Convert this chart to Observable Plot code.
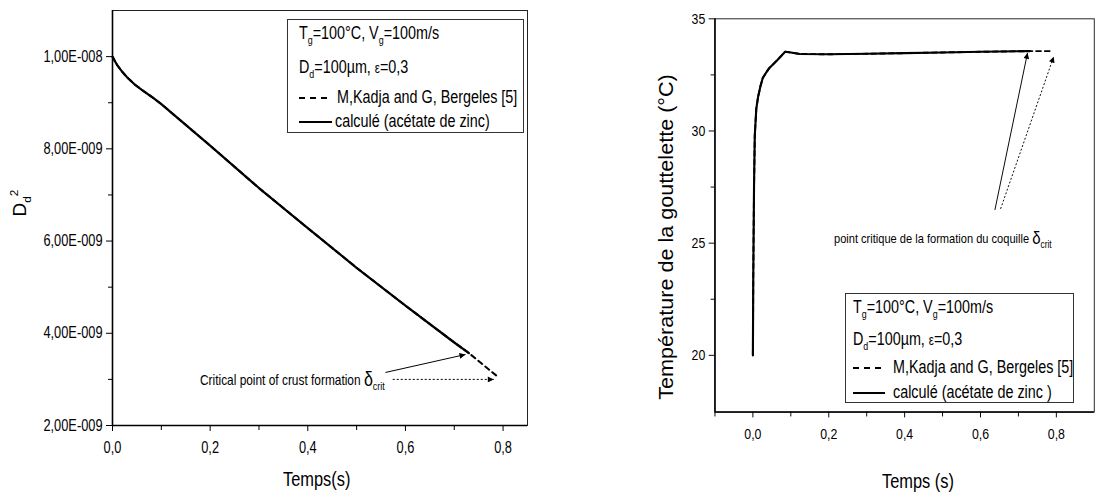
<!DOCTYPE html>
<html><head><meta charset="utf-8">
<script src="https://cdn.jsdelivr.net/npm/d3@7"></script>
<script src="https://cdn.jsdelivr.net/npm/@observablehq/plot@0.6"></script>
<style>
html,body{margin:0;padding:0;background:#fff;}
body{width:1102px;height:495px;overflow:hidden;position:relative;font-family:"Liberation Sans",Arial,sans-serif;color:#000;}
.panel{position:absolute;top:0;overflow:hidden;}
.txt{position:absolute;white-space:nowrap;line-height:1;}
.n{transform:scaleX(0.82);transform-origin:0 50%;}
.txt sub{font-size:62%;vertical-align:-0.45em;line-height:0;}
.txt sup{font-size:62%;vertical-align:0.6em;line-height:0;}
.legend{position:absolute;border:1px solid #333;background:#fff;box-sizing:border-box;}
</style></head>
<body>
<div id="left" class="panel" style="left:0;width:540px;height:495px"></div>
<div id="right" class="panel" style="left:620px;width:482px;height:495px"></div>
<script>
// ---------- data: left panel (D_d^2 vs time) ----------
const timeD2Calc = [0, 0.005, 0.01, 0.02, 0.03, 0.045, 0.06, 0.08, 0.1, 0.2, 0.3, 0.4, 0.5, 0.6, 0.7, 0.73];
const d2Calc     = [1.0e-8, 9.9e-9, 9.81e-9, 9.67e-9, 9.55e-9, 9.4e-9, 9.28e-9, 9.13e-9, 8.97e-9, 8.07e-9, 7.15e-9, 6.28e-9, 5.42e-9, 4.6e-9, 3.8e-9, 3.57e-9];
const timeD2Ref  = [0, 0.005, 0.01, 0.02, 0.03, 0.045, 0.06, 0.08, 0.1, 0.2, 0.3, 0.4, 0.5, 0.6, 0.7, 0.73, 0.79];
const d2Ref      = [1.0e-8, 9.9e-9, 9.81e-9, 9.67e-9, 9.55e-9, 9.4e-9, 9.28e-9, 9.13e-9, 8.97e-9, 8.07e-9, 7.15e-9, 6.28e-9, 5.42e-9, 4.6e-9, 3.8e-9, 3.57e-9, 3.05e-9];
const leftXTicks = [0, 0.2, 0.4, 0.6, 0.8];
const leftXMinor = [0.1, 0.3, 0.5, 0.7];
const leftYTicks = [2e-9, 4e-9, 6e-9, 8e-9, 1e-8];
const leftYTickLabels = ["2,00E-009", "4,00E-009", "6,00E-009", "8,00E-009", "1,00E-008"];
const leftYMinor = [3e-9, 5e-9, 7e-9, 9e-9];
// annotation arrows (data coords): [x1, y1, x2, y2]
const leftArrowSolid  = [0.559, 3.15e-9, 0.723, 3.54e-9];
const leftArrowDotted = [0.574, 3.0e-9, 0.781, 3.0e-9];

// ---------- data: right panel (droplet temperature vs time) ----------
const timeTCalc = [0, 0.001, 0.003, 0.005, 0.009, 0.0135, 0.02, 0.026, 0.035, 0.043, 0.064, 0.085, 0.1, 0.124, 0.2, 0.3, 0.4, 0.5, 0.6, 0.73];
const tempCalc  = [20, 23.5, 27.5, 29.8, 31.0, 31.5, 32.0, 32.36, 32.6, 32.8, 33.15, 33.53, 33.5, 33.43, 33.42, 33.44, 33.47, 33.5, 33.53, 33.56];
const timeTRef  = [0, 0.001, 0.003, 0.005, 0.009, 0.0135, 0.02, 0.026, 0.035, 0.043, 0.064, 0.085, 0.1, 0.124, 0.2, 0.3, 0.4, 0.5, 0.6, 0.73, 0.79];
const tempRef   = [20, 23.5, 27.5, 29.8, 31.0, 31.5, 32.0, 32.36, 32.6, 32.8, 33.15, 33.53, 33.5, 33.43, 33.42, 33.44, 33.47, 33.5, 33.53, 33.56, 33.56];
const rightXTicks = [0, 0.2, 0.4, 0.6, 0.8];
const rightXMinor = [-0.1, 0.1, 0.3, 0.5, 0.7];
const rightYTicks = [20, 25, 30, 35];
const rightYMinor = [22.5, 27.5, 32.5];
const rightArrowSolid  = [0.638, 26.48, 0.724, 33.48];
const rightArrowDotted = [0.653, 26.53, 0.793, 33.31];

const fmtX = d => d3.format(".1f")(d).replace(".", ",");
const FONT = '"Liberation Sans",Arial,sans-serif';

function rows(xs, ys) { return xs.map((x, i) => ({x, y: ys[i]})); }

function addArrowheads(svg, id) {
  const s = d3.select(svg);
  s.append("defs").append("marker")
    .attr("id", id).attr("viewBox", "0 -5 10 10").attr("refX", 10).attr("refY", 0)
    .attr("markerWidth", 10).attr("markerHeight", 6).attr("markerUnits", "userSpaceOnUse")
    .attr("orient", "auto")
    .append("path").attr("d", "M0,-5L10,0L0,5Z").attr("fill", "#000");
  s.selectAll('g[aria-label="link"] path').attr("marker-end", `url(#${id})`);
}
// narrow the tick labels (condensed face is not installed)
function condense(svg, k) {
  d3.select(svg).selectAll("text").each(function() {
    const L = this.getComputedTextLength();
    if (L > 0) { this.setAttribute("textLength", L * k); this.setAttribute("lengthAdjust", "spacingAndGlyphs"); }
  });
}

// ---------- left plot ----------
const leftPlot = Plot.plot({
  width: 540, height: 495,
  marginLeft: 112, marginRight: 13, marginTop: 10, marginBottom: 70,
  x: {domain: [0, 0.85]},
  y: {domain: [2e-9, 1.1e-8]},
  style: {fontFamily: FONT, fontSize: "16px", color: "#000", background: "transparent"},
  marks: [
    Plot.frame({stroke: "#222", strokeWidth: 1}),
    Plot.axisX(leftXTicks, {tickSize: 6, tickPadding: 10, tickFormat: fmtX, label: null, fontSize: 16}),
    Plot.axisX(leftXMinor, {tickSize: 5, tickFormat: () => "", label: null}),
    Plot.axisY(leftYTicks, {tickSize: 6, tickPadding: 4, tickFormat: (d, i) => leftYTickLabels[i], label: null, fontSize: 16}),
    Plot.axisY(leftYMinor, {tickSize: 4, tickFormat: () => "", label: null}),
    Plot.ruleX([0], {stroke: "#000", strokeWidth: 1.6}),
    Plot.ruleY([2e-9], {stroke: "#000", strokeWidth: 1.6}),
    Plot.line(rows(timeD2Ref, d2Ref), {x: "x", y: "y", stroke: "#000", strokeWidth: 2, strokeDasharray: "5,4"}),
    Plot.line(rows(timeD2Calc, d2Calc), {x: "x", y: "y", stroke: "#000", strokeWidth: 2.2}),
    Plot.link([leftArrowSolid], {x1: d => d[0], y1: d => d[1], x2: d => d[2], y2: d => d[3], stroke: "#000", strokeWidth: 1}),
    Plot.link([leftArrowDotted], {x1: d => d[0], y1: d => d[1], x2: d => d[2], y2: d => d[3], stroke: "#000", strokeWidth: 1, strokeDasharray: "2,2"})
  ]
});
addArrowheads(leftPlot, "ahL");
document.getElementById("left").appendChild(leftPlot);
condense(leftPlot, 0.8);

// ---------- right plot ----------
const rightPlot = Plot.plot({
  width: 500, height: 495,
  marginLeft: 98, marginRight: 8.5, marginTop: 19, marginBottom: 68,
  x: {domain: [-0.1, 0.9]},
  y: {domain: [17.47, 35]},
  style: {fontFamily: FONT, fontSize: "16px", color: "#000", background: "transparent"},
  marks: [
    Plot.frame({stroke: "#222", strokeWidth: 1}),
    Plot.axisX(rightXTicks, {tickSize: 6, tickPadding: 11, tickFormat: fmtX, label: null, fontSize: 16}),
    Plot.axisX(rightXMinor, {tickSize: 5, tickFormat: () => "", label: null}),
    Plot.axisY(rightYTicks, {tickSize: 6, tickPadding: 4, tickFormat: d => String(d), label: null, fontSize: 16}),
    Plot.axisY(rightYMinor, {tickSize: 4, tickFormat: () => "", label: null}),
    Plot.ruleX([-0.1], {stroke: "#000", strokeWidth: 1.6}),
    Plot.ruleY([17.47], {stroke: "#000", strokeWidth: 1.6}),
    Plot.line(rows(timeTRef, tempRef), {x: "x", y: "y", stroke: "#000", strokeWidth: 2, strokeDasharray: "5,4"}),
    Plot.line(rows(timeTCalc, tempCalc), {x: "x", y: "y", stroke: "#000", strokeWidth: 2.2}),
    Plot.link([rightArrowSolid], {x1: d => d[0], y1: d => d[1], x2: d => d[2], y2: d => d[3], stroke: "#000", strokeWidth: 1}),
    Plot.link([rightArrowDotted], {x1: d => d[0], y1: d => d[1], x2: d => d[2], y2: d => d[3], stroke: "#000", strokeWidth: 1, strokeDasharray: "2,2"})
  ]
});
addArrowheads(rightPlot, "ahR");
document.getElementById("right").appendChild(rightPlot);
condense(rightPlot, 0.8);

// ---------- text overlays ----------
function txt(html, left, top, size, extra = "", cls = "n") {
  const d = document.createElement("div");
  d.className = "txt " + cls;
  d.style.left = left + "px"; d.style.top = top + "px"; d.style.fontSize = size + "px";
  if (extra) d.style.cssText += extra;
  d.innerHTML = html;
  document.body.appendChild(d);
  return d;
}
function legend(left, top, w, h) {
  const d = document.createElement("div");
  d.className = "legend";
  Object.assign(d.style, {left: left + "px", top: top + "px", width: w + "px", height: h + "px"});
  document.body.appendChild(d);
}
function sample(left, top, w, dashed) {
  const ns = "http://www.w3.org/2000/svg";
  const s = document.createElementNS(ns, "svg");
  s.setAttribute("width", w); s.setAttribute("height", 4);
  s.style.cssText = `position:absolute;left:${left}px;top:${top - 2}px;overflow:visible`;
  const l = document.createElementNS(ns, "line");
  l.setAttribute("x1", 0); l.setAttribute("x2", w); l.setAttribute("y1", 2); l.setAttribute("y2", 2);
  l.setAttribute("stroke", "#000"); l.setAttribute("stroke-width", 2);
  if (dashed) l.setAttribute("stroke-dasharray", "6,5");
  s.appendChild(l);
  document.body.appendChild(s);
}

const L1 = "T<sub>g</sub>=100°C, V<sub>g</sub>=100m/s";
const L2 = "D<sub>d</sub>=100µm, <span style='font-size:80%'>ε</span>=0,3";
const L3 = "M,Kadja and G, Bergeles [5]";
const L4a = "calculé (acétate de zinc)";
const L4b = "calculé (acétate de zinc )";

// left legend
legend(287, 19, 237, 114);
txt(L1, 299, 25, 17.5);
txt(L2, 299, 59, 17.5);
sample(299, 98, 30, true);
txt(L3, 337, 89, 17.5);
sample(299, 122, 33, false);
txt(L4a, 335, 113, 17.5);

// right legend
legend(845, 293, 229, 110);
txt(L1, 853, 299, 17.5);
txt(L2, 853, 331, 17.5);
sample(853, 368, 32, true);
txt(L3, 893, 359, 17.5);
sample(853, 393, 32, false);
txt(L4b, 893, 384, 17.5);

// annotations
const DELTA = "<span style='font-size:135%;vertical-align:-0.05em'>δ</span><sub style='font-size:75%;vertical-align:-0.5em'>crit</sub>";
txt("Critical point of crust formation " + DELTA, 200, 370, 14.5);
txt("point critique de la formation du coquille " + DELTA, 834, 229, 13.5);

// axis titles
txt("Temps(s)", 283, 469, 20);
txt("Temps (s)", 882, 471, 20);
txt("D<sub>d</sub><sup>2</sup>", 19, 203, 19, "transform:translate(-50%,-50%) rotate(-90deg);transform-origin:center;", "");
txt("Température de la gouttelette (°C)", 666, 237, 20, "transform:translate(-50%,-50%) rotate(-90deg) scaleX(1.08);transform-origin:center;", "");
</script>
</body></html>
